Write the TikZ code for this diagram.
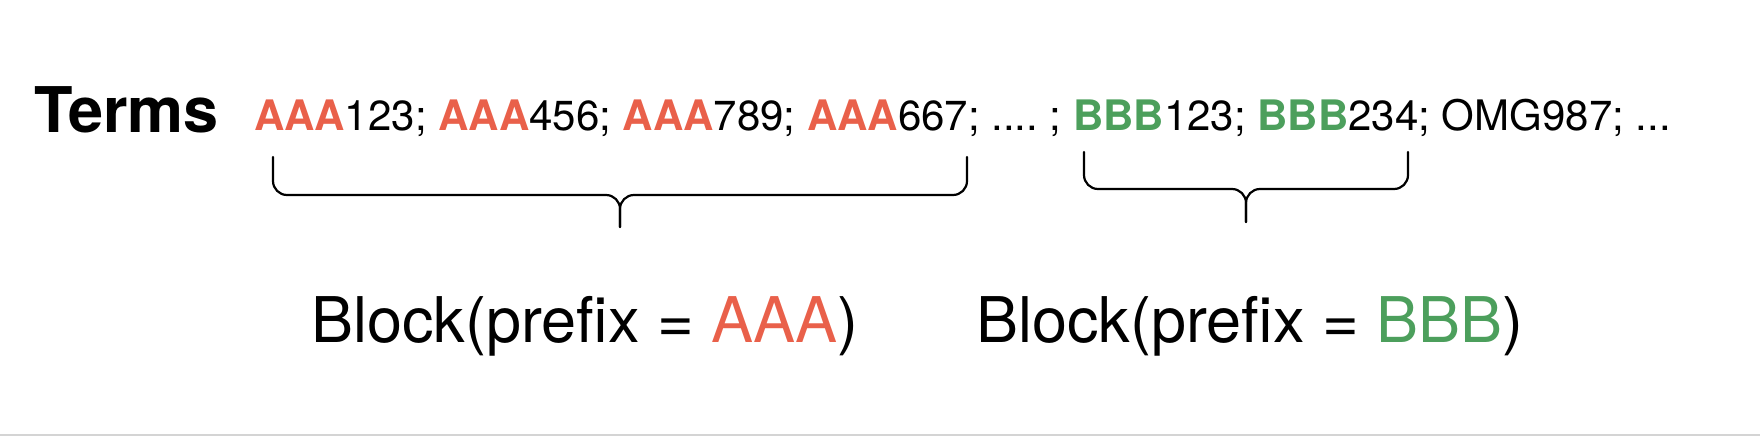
\documentclass[tikz,border=0pt]{standalone}
\usepackage{fontspec}
\setmainfont{TeX Gyre Heros}
\frenchspacing
\definecolor{pfxred}{HTML}{E9604A}
\definecolor{pfxgreen}{HTML}{4C9F5C}
\definecolor{rulegray}{HTML}{D4D4D4}
\newcommand{\ra}{\textbf{\color{pfxred}AAA}}
\newcommand{\gb}{\textbf{\color{pfxgreen}BBB}}
\tikzset{
  txt/.style={inner sep=0pt, outer sep=0pt, anchor=base west},
  bracepath/.style={line width=2.2pt, rounded corners=14pt, line cap=round}
}
\begin{document}
\begin{tikzpicture}[x=1pt,y=-1pt]
\useasboundingbox (0,0) rectangle (1760,436);
\node[txt, font=\fontsize{63}{70}\selectfont\bfseries] (terms) at (34,132) {Terms};
\node[txt, font=\fontsize{42}{48}\selectfont] (line) at (254,130)
  {\ra123; \ra456; \ra789; \ra667; .... ; \gb123; \gb234; OMG987; ...};
% brace 1
\coordinate (b1l) at (273,157);
\coordinate (b1r) at (967,157);
\coordinate (b1m) at (620,195);
\coordinate (b1t) at (620,227);
\draw[bracepath] (b1l) -- (b1l |- b1m) -- (b1m) -- (b1t);
\draw[bracepath] (b1r) -- (b1r |- b1m) -- (b1m) -- (b1t);
% brace 2
\coordinate (b2l) at (1084,152);
\coordinate (b2r) at (1408,152);
\coordinate (b2m) at (1246,189);
\coordinate (b2t) at (1246,222);
\draw[bracepath] (b2l) -- (b2l |- b2m) -- (b2m) -- (b2t);
\draw[bracepath] (b2r) -- (b2r |- b2m) -- (b2m) -- (b2t);
\node[txt, font=\fontsize{63}{70}\selectfont] (blka) at (311,342) {Block(prefix = \textcolor{pfxred}{AAA})};
\node[txt, font=\fontsize{63}{70}\selectfont] (blkb) at (976,342) {Block(prefix = \textcolor{pfxgreen}{BBB})};
\coordinate (gl) at (0,435);
\coordinate (gr) at (1760,435);
\draw[rulegray, line width=1.5pt] (gl) -- (gr);
\end{tikzpicture}
\end{document}
